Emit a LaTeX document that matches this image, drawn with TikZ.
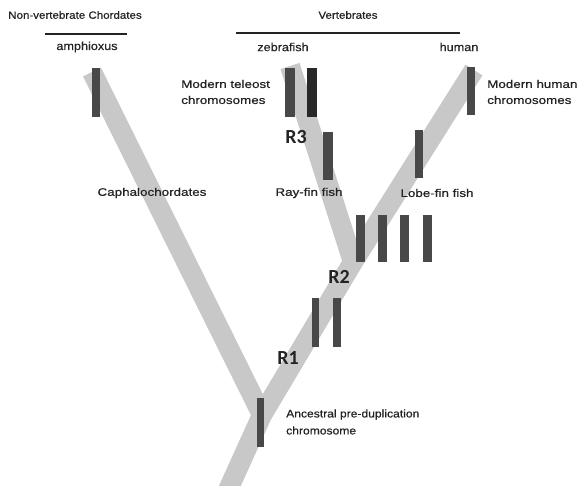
\documentclass[tikz,border=0pt]{standalone}
\usepackage{fontspec}
\setmainfont{Liberation Sans}[FakeStretch=1.1,FakeBold=0.6]
\newfontfamily\widefont{Liberation Sans}[FakeStretch=1.22,FakeBold=0.6]
\newfontfamily\rfont{Carlito}
\definecolor{bandc}{RGB}{200,200,200}
\definecolor{barc}{RGB}{72,72,72}
\definecolor{bardk}{RGB}{40,40,40}
\definecolor{txtc}{RGB}{35,35,35}
\begin{document}
\begin{tikzpicture}[x=1pt,y=-1pt,
  band/.style={line width=20pt, draw=bandc, line join=round},
  chrom/.style={fill=barc, draw=none, inner sep=0pt, minimum width=#1},
  chrom/.default=8pt,
  lbl/.style={font=\fontsize{10.5}{15}\selectfont, text=txtc, inner sep=0pt},
  slbl/.style={font=\fontsize{11.5}{15}\selectfont, text=txtc, inner sep=0pt},
  wlbl/.style={font=\widefont\fontsize{11}{16}\selectfont, text=txtc, inner sep=0pt},
  wlbll/.style={wlbl, align=left, anchor=west},
  rlab/.style={font=\rfont\bfseries\fontsize{20}{20}\selectfont, text=txtc, inner sep=0pt},
  hline/.style={line width=1.1pt, draw=txtc}
]
\useasboundingbox (0,0) rectangle (578,485);
% tree coordinates
\coordinate (base) at (228,490);
\coordinate (junc) at (262,415);
\coordinate (amph) at (92,72);
\coordinate (fork) at (353,262);
\coordinate (zeb) at (290,66);
\coordinate (hum) at (474,70);
% bands
\draw[band] (base) -- (junc) -- (fork);
\draw[band] (junc) -- (amph);
\draw[band] (fork) -- (zeb);
\draw[band] (fork) -- (hum);
% chromosome bars
\node[chrom, minimum height=49pt] (bamph) at (96,92.5) {};
\node[chrom=10pt, minimum height=49pt] (bzeb1) at (290,92.5) {};
\node[chrom=10pt, minimum height=49pt, fill=bardk] (bzeb2) at (312,92.5) {};
\node[chrom=10pt, minimum height=48pt] (bray) at (328,156) {};
\node[chrom, minimum height=48pt] (bhum) at (471,91) {};
\node[chrom, minimum height=48pt] (blobe) at (419,154) {};
\node[chrom=9pt, minimum height=47pt] (bra) at (360.5,238.5) {};
\node[chrom=9pt, minimum height=47pt] (brb) at (382.5,238.5) {};
\node[chrom=9pt, minimum height=47pt] (brc) at (404,238.5) {};
\node[chrom=9pt, minimum height=47pt] (brd) at (427.5,238.5) {};
\node[chrom=7pt, minimum height=49pt] (bqa) at (315.5,322.5) {};
\node[chrom, minimum height=49pt] (bqb) at (337,322.5) {};
\node[chrom=7pt, minimum height=49pt] (banc) at (260.5,422.5) {};
% headers
\node[lbl] (nvc) at (75,15) {Non-vertebrate Chordates};
\node[lbl] (vert) at (348,15) {Vertebrates};
\coordinate (l1a) at (45,34); \coordinate (l1b) at (127,34);
\coordinate (l2a) at (236,33); \coordinate (l2b) at (460,33);
\draw[hline] (l1a) -- (l1b);
\draw[hline] (l2a) -- (l2b);
\node[slbl] (tamph) at (87,47) {amphioxus};
\node[slbl] (tzeb) at (283,47) {zebrafish};
\node[slbl] (thum) at (459,47) {human};
% labels
\node[wlbll] (tele) at (181,92) {Modern teleost\\chromosomes};
\node[wlbll] (mhum) at (487,92) {Modern human\\chromosomes};
\node[wlbl] (ceph) at (152,193) {Caphalochordates};
\node[wlbl] (ray) at (309,193) {Ray-fin fish};
\node[wlbl] (lobe) at (437,193) {Lobe-fin fish};
\node[lbl, align=left, anchor=west, font=\fontsize{11}{17}\selectfont] (anc) at (286,422) {Ancestral pre-duplication\\chromosome};
\node[rlab] (r3) at (296,137) {R3};
\node[rlab] (r2) at (339,277) {R2};
\node[rlab] (r1) at (288,358) {R1};
\end{tikzpicture}
\end{document}
